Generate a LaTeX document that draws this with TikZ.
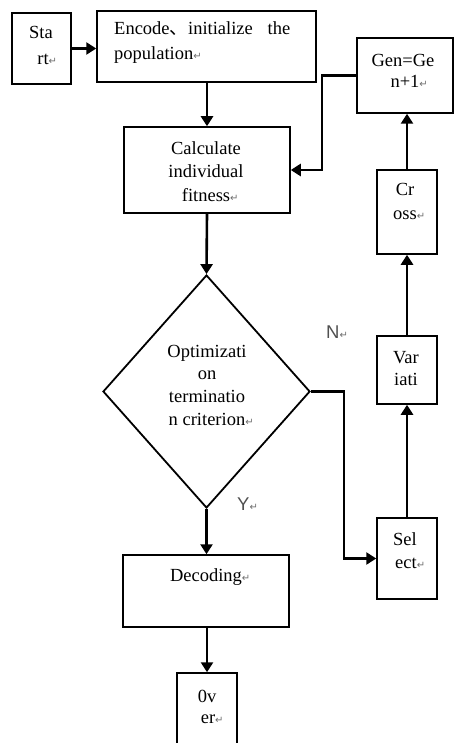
\documentclass[tikz,border=0pt]{standalone}
\usepackage{fontspec}
\setmainfont{Liberation Serif}
\newfontfamily\sansf{Liberation Sans}
\newfontfamily\symf{DejaVu Sans}
\newfontfamily\cjkf{Noto Sans CJK SC}
\usetikzlibrary{shapes.geometric,arrows.meta}
\definecolor{labgray}{RGB}{80,80,80}
\definecolor{markgray}{RGB}{110,110,110}
\newcommand\pmark{\rlap{\symf\fontsize{10}{10}\selectfont\color{markgray}↵}}
\begin{document}
\begin{tikzpicture}[x=1pt,y=-1pt,
  box/.style={draw,line width=1.5pt,inner sep=0pt,rectangle},
  conn/.style={line width=2.6pt,-{Triangle[length=10pt,width=12pt]}},
  tl/.style={anchor=base,inner sep=0pt,font=\fontsize{18.5}{22}\selectfont},
  lab/.style={anchor=base west,inner sep=0pt,font=\sansf\fontsize{18.5}{20}\selectfont,text=labgray}]
\clip (0,0) rectangle (454,743);
% boxes
\node[box,minimum width=59pt,minimum height=71pt] (start) at (41.5,48.5) {};
\node[box,minimum width=219pt,minimum height=71pt] (encode) at (206.5,46.5) {};
\node[box,minimum width=96pt,minimum height=75pt] (gen) at (405,75.5) {};
\node[box,minimum width=166pt,minimum height=86pt] (calc) at (207,170) {};
\node[draw,diamond,line width=1.8pt,inner sep=0pt,aspect=0.888,minimum width=207pt,minimum height=233pt] (dia) at (206.5,391.5) {};
\node[box,minimum width=60pt,minimum height=81pt] (select) at (407,558.5) {};
\node[box,minimum width=60pt,minimum height=68pt] (variati) at (407,370) {};
\node[box,minimum width=60pt,minimum height=84pt] (cross) at (407,212) {};
\node[box,minimum width=166pt,minimum height=72pt] (decoding) at (206,591) {};
\node[box,minimum width=60pt,minimum height=86pt] (over) at (207,716) {};
% texts
\node[tl] (t1) at (41,39) {Sta};
\node[tl] (t2) at (43,65) {rt\pmark};
\node[tl,anchor=base west] (t3) at (114,35) {\hbox to 176pt{Encode{\cjkf 、}initialize\hfill the}};
\node[tl,anchor=base west] (t4) at (114,60) {population\pmark};
\node[tl] (t5) at (403,67) {Gen=Ge};
\node[tl] (t6) at (405,88) {n+1\pmark};
\node[tl] (t7) at (206,155) {Calculate};
\node[tl] (t8) at (206,178) {individual};
\node[tl] (t9) at (206,201) {fitness\pmark};
\node[tl] (t10) at (405,196) {Cr};
\node[tl] (t11) at (405,219) {oss\pmark};
\node[tl] (t12) at (207,357) {Optimizati};
\node[tl] (t13) at (207,379.5) {on};
\node[tl] (t14) at (207,402) {terminatio};
\node[tl] (t15) at (207,425) {n criterion\pmark};
\node[tl] (t16) at (406,363) {Var};
\node[tl] (t17) at (406,385) {iati};
\node[tl] (t18) at (405,545) {Sel};
\node[tl] (t19) at (406,568) {ect\pmark};
\node[tl] (t20) at (206,581) {Decoding\pmark};
\node[tl] (t21) at (207,702) {0v};
\node[tl] (t22) at (208,723) {er\pmark};
\node[lab] (n) at (326,338) {N\pmark};
\node[lab] (y) at (237,510) {Y\pmark};
% connectors
\coordinate (gturn) at (322,75.5);
\coordinate (nturn) at (344,391.5);
\draw[conn] (start.east) -- (start.east -| encode.west);
\draw[conn] (encode.south -| calc.north) -- (calc.north);
\draw[conn] (gen.west) -- (gturn) |- (calc.east);
\draw[conn] (calc.south) -- (dia.north);
\draw[conn] (dia.east) -- (nturn) |- (select.west);
\draw[conn] (dia.south) -- (dia.south |- decoding.north);
\draw[conn] (decoding.south -| over.north) -- (over.north);
\draw[conn] (select.north) -- (variati.south);
\draw[conn] (variati.north) -- (cross.south);
\draw[conn] (cross.north) -- (cross.north |- gen.south);
\end{tikzpicture}
\end{document}
